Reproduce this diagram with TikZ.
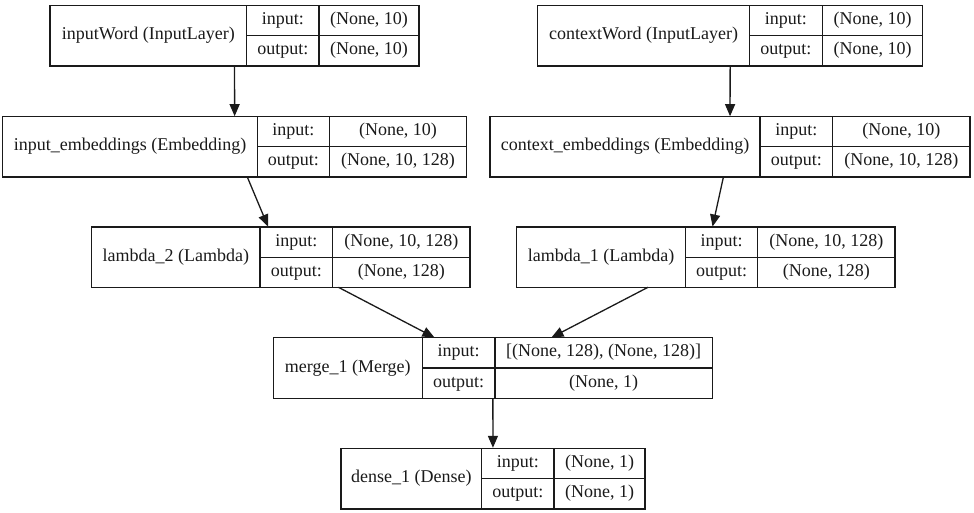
\documentclass[tikz,border=0pt]{standalone}
\usepackage{fontspec}
\setmainfont{Liberation Serif}
\usetikzlibrary{arrows.meta}
\definecolor{ink}{HTML}{1A1A1A}
\tikzset{
  rec/.style={draw=ink, line width=1.3pt, inner sep=0pt, outer sep=0pt, rectangle},
  divline/.style={draw=ink, line width=1.3pt},
  txt/.style={inner sep=0pt, text=ink, font=\fontsize{18}{20}\selectfont, text height=12pt, text depth=4pt, anchor=center},
  flow/.style={draw=ink, line width=1.3pt, -{Triangle[length=12pt,width=10pt]}, shorten >=0.5pt}
}
% #1 name, #2 left, #3 top, #4 right, #5 bottom, #6 div1, #7 div2, #8 label
\newcommand\layerrec[8]{%
  \node[rec, minimum width={(#4-#2)*1pt}, minimum height={(#5-#3)*1pt}] (#1) at ({(#2+#4)/2},{(#3+#5)/2}) {};
  \draw[divline] (#6,#3) -- (#6,#5) (#7,#3) -- (#7,#5) (#6,{(#3+#5)/2}) -- (#4,{(#3+#5)/2});
  \node[txt] (#1-label) at ({(#2+#6)/2},{(#3+#5)/2}) {#8};
  \coordinate (#1-ki) at ({(#6+#7)/2},{#3+(#5-#3)/4});
  \coordinate (#1-ko) at ({(#6+#7)/2},{#3+3*(#5-#3)/4});
  \coordinate (#1-vi) at ({(#7+#4)/2},{#3+(#5-#3)/4});
  \coordinate (#1-vo) at ({(#7+#4)/2},{#3+3*(#5-#3)/4});
}
\newcommand\layerio[3]{%
  \node[txt] (#1-inkey) at (#1-ki) {input:};
  \node[txt] (#1-outkey) at (#1-ko) {output:};
  \node[txt] (#1-inval) at (#1-vi) {#2};
  \node[txt] (#1-outval) at (#1-vo) {#3};
}
\begin{document}
\begin{tikzpicture}[x=1pt,y=-1pt]
\useasboundingbox[fill=white] (0,0) rectangle (974,513);

\layerrec{iw}{50}{5.7}{419}{66}{246.7}{319}{inputWord (InputLayer)}
\layerio{iw}{(None, 10)}{(None, 10)}

\layerrec{cw}{537.7}{5.7}{922.7}{66}{749.3}{822.3}{contextWord (InputLayer)}
\layerio{cw}{(None, 10)}{(None, 10)}

\layerrec{ie}{2.7}{116.7}{466.7}{177}{257.3}{329.3}{input\_embeddings (Embedding)}
\layerio{ie}{(None, 10)}{(None, 10, 128)}

\layerrec{ce}{490}{116.7}{970}{177}{760}{832.7}{context\_embeddings (Embedding)}
\layerio{ce}{(None, 10)}{(None, 10, 128)}

\layerrec{l2}{91.7}{227}{470}{287.3}{260}{332.7}{lambda\_2 (Lambda)}
\layerio{l2}{(None, 10, 128)}{(None, 128)}

\layerrec{l1}{516.7}{227}{895}{287.3}{685.7}{757.7}{lambda\_1 (Lambda)}
\layerio{l1}{(None, 10, 128)}{(None, 128)}

\layerrec{mg}{273.3}{337.7}{712.3}{398.3}{422.3}{495}{merge\_1 (Merge)}
\layerio{mg}{[(None, 128), (None, 128)]}{(None, 1)}

\layerrec{ds}{341}{448.3}{645}{509}{481.7}{554}{dense\_1 (Dense)}
\layerio{ds}{(None, 1)}{(None, 1)}

\draw[flow] (iw) -- (ie);
\draw[flow] (cw) -- (ce);
\draw[flow] (ie) -- (l2);
\draw[flow] (ce) -- (l1);
\draw[flow] (l2) -- (mg);
\draw[flow] (l1) -- (mg);
\draw[flow] (mg) -- (ds);
\end{tikzpicture}
\end{document}
